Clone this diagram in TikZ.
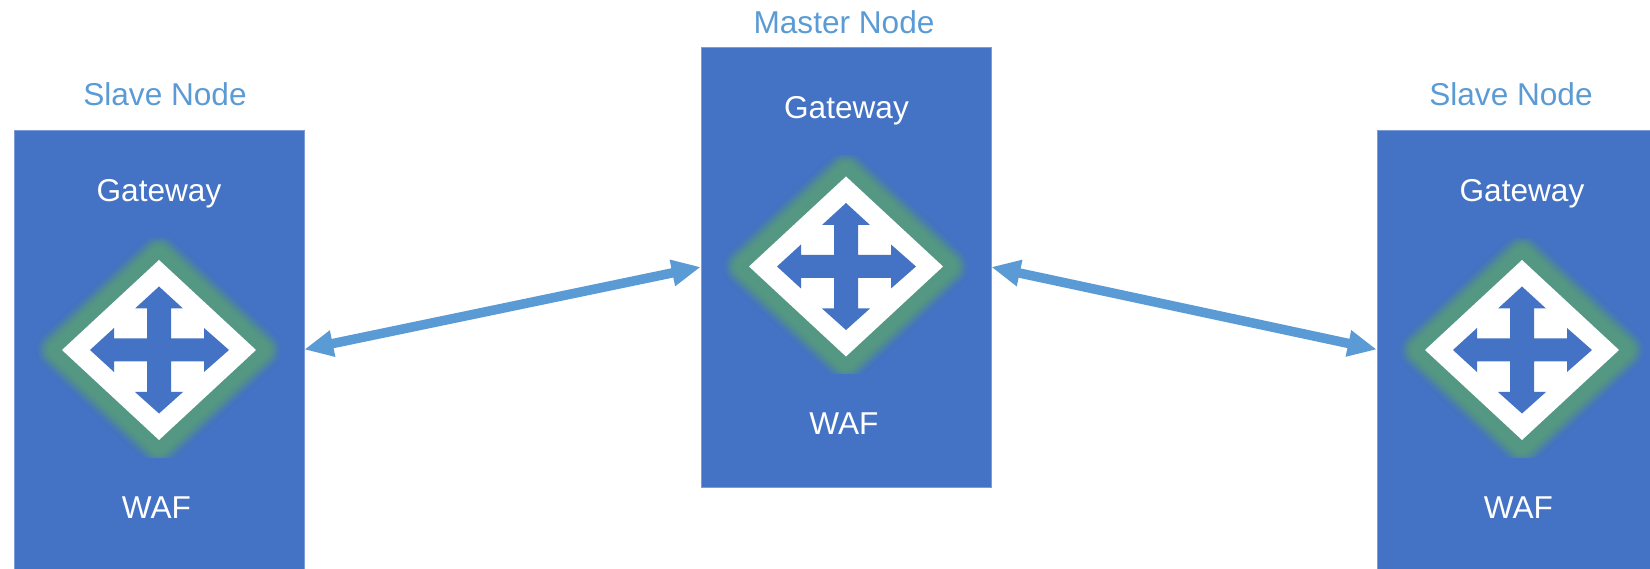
\documentclass[tikz,border=0pt]{standalone}
\usepackage{fontspec}
\setmainfont{Liberation Sans}
\usetikzlibrary{arrows.meta}
\definecolor{boxblue}{HTML}{4472C4}
\definecolor{edgeblue}{HTML}{5B9BD5}
\definecolor{glowgreen}{HTML}{549782}
\tikzset{
  x=1pt,y=-1pt,
  nodebox/.style={rectangle,fill=boxblue,draw=boxblue!70!white,line width=0.5pt,inner sep=0pt,outer sep=0pt},
  title/.style={anchor=base,text=edgeblue,font=\fontsize{31.6}{36}\selectfont,inner sep=0pt},
  inbox/.style={anchor=base,text=white,font=\fontsize{31.6}{36}\selectfont,inner sep=0pt},
  link/.style={draw=edgeblue,line width=9.5pt,{Triangle[length=29pt,width=25pt]}-{Triangle[length=29pt,width=25pt]}},
  pics/gatewayicon/.style={code={
    \begin{scope}
      \clip (-125,-111) rectangle (125,107);
      \foreach \i in {0,...,31}{
        \pgfmathsetmacro{\dd}{23.5-\i*0.5}
        \pgfmathsetmacro{\tt}{\i/31}
        \pgfmathsetmacro{\pp}{100*\tt*\tt*(3-2*\tt)}
        \draw[line join=round,line width=2*\dd pt,draw=glowgreen!\pp!boxblue,fill=glowgreen!\pp!boxblue]
          (-101,0) -- (0,-94) -- (101,0) -- (0,94) -- cycle;
      }
    \end{scope}
    \fill[white] (-97,0) -- (0,-90) -- (97,0) -- (0,90) -- cycle;
    \fill[boxblue] (0,-63.5) -- (24,-41.5) -- (12,-41.5) -- (12,-11.5) -- (45,-11.5) -- (45,-22)
      -- (70,0) -- (45,22) -- (45,11.5) -- (12,11.5) -- (12,42) -- (24,42) -- (0,63.5)
      -- (-24,42) -- (-12,42) -- (-12,11.5) -- (-45,11.5) -- (-45,22) -- (-69,0) -- (-45,-22)
      -- (-45,-11.5) -- (-12,-11.5) -- (-12,-41.5) -- (-24,-41.5) -- cycle;
  }}
}
\begin{document}
\begin{tikzpicture}
\useasboundingbox (0,0) rectangle (1650,569);
% boxes
\node[nodebox,minimum width=290.5pt,minimum height=439pt] (slaveL) at (159,349.5) {};
\node[nodebox,minimum width=290.5pt,minimum height=440pt] (master) at (846,267) {};
\node[nodebox,minimum width=290.5pt,minimum height=439pt] (slaveR) at (1522,349.5) {};
% icons
\pic at (159,350) {gatewayicon};
\pic at (846,266.5) {gatewayicon};
\pic at (1522,350) {gatewayicon};
% titles
\node[title] (titleL) at (165,106) {Slave Node};
\node[title] (titleM) at (844,34) {Master Node};
\node[title] (titleR) at (1511,106) {Slave Node};
% inner labels
\node[inbox] (gwL) at (159,202) {Gateway};
\node[inbox] (gwM) at (846.5,118.5) {Gateway};
\node[inbox] (gwR) at (1522,202) {Gateway};
\node[inbox] (wafL) at (156.5,518) {WAF};
\node[inbox] (wafM) at (844,435) {WAF};
\node[inbox] (wafR) at (1518.5,518) {WAF};
% connectors
\draw[link] (slaveL.east) -- (master.west);
\draw[link] (master.east) -- (slaveR.west);
\end{tikzpicture}
\end{document}
